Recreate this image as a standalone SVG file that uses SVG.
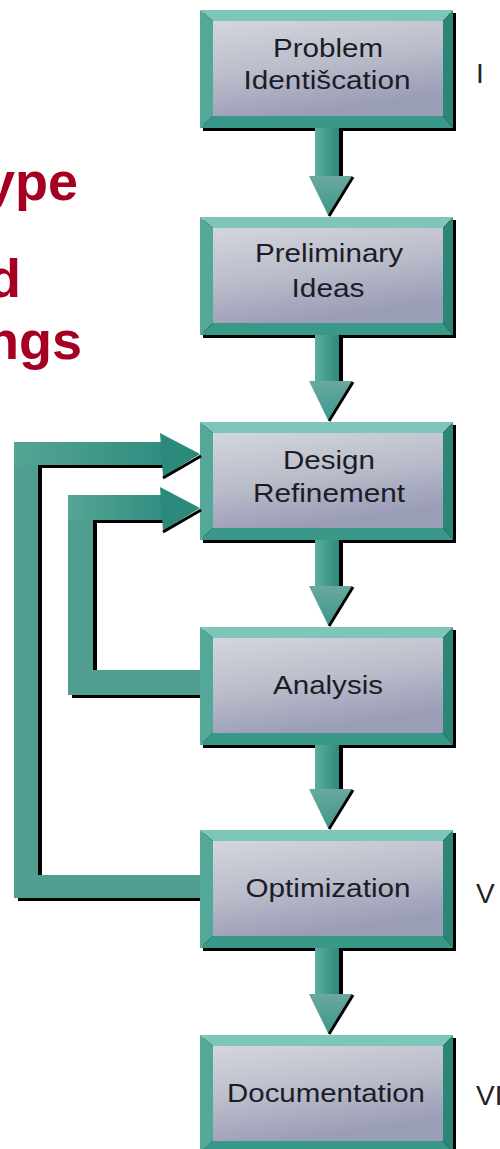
<svg xmlns="http://www.w3.org/2000/svg" xmlns:xlink="http://www.w3.org/1999/xlink" width="500" height="1149" viewBox="0 0 500 1149">
  <style>
    .title { font-family: "Liberation Sans", Arial, sans-serif; font-weight: bold; font-size: 54px; fill: #a50021; text-anchor: end; }
    .lbl { font-family: "Liberation Sans", Arial, sans-serif; font-size: 26px; fill: #1c1c28; text-anchor: middle; }
    .num { font-family: "Liberation Sans", Arial, sans-serif; font-size: 28px; fill: #222222; }
    .shadow { fill: #000000; }
    .bar { fill: #4f9e8f; }
    .head { fill: #2b8a7b; }
    .edge { stroke: #000000; stroke-width: 3; fill: none; }
  </style>
  <defs>
    <linearGradient id="face" x1="0" y1="0" x2="0.35" y2="1">
      <stop offset="0" stop-color="#d3d6dc"/>
      <stop offset="0.5" stop-color="#bcbfcb"/>
      <stop offset="1" stop-color="#9a9db6"/>
    </linearGradient>
    <linearGradient id="shaft" x1="0" y1="0" x2="1" y2="0">
      <stop offset="0" stop-color="#5cae9f"/>
      <stop offset="1" stop-color="#2d8a7c"/>
    </linearGradient>
    <linearGradient id="dhead" x1="0" y1="0" x2="0" y2="1">
      <stop offset="0" stop-color="#6aa9a1"/>
      <stop offset="1" stop-color="#3d978a"/>
    </linearGradient>
    <linearGradient id="hbar" x1="0" y1="0" x2="1" y2="0">
      <stop offset="0" stop-color="#55a595"/>
      <stop offset="1" stop-color="#2f8d80"/>
    </linearGradient>
    <g id="boxshape">
      <rect class="shadow" x="203" y="3" width="253" height="118"/>
      <polygon points="200,0 453,0 443,11 213,11" fill="#7ec6b9"/>
      <polygon points="200,0 213,11 213,106 200,118" fill="#53a899"/>
      <polygon points="200,118 213,106 443,106 453,118" fill="#399888"/>
      <polygon points="453,0 453,118 443,106 443,11" fill="#2c8576"/>
      <rect x="213" y="11" width="230" height="95" fill="url(#face)"/>
    </g>
  </defs>

  <rect width="500" height="1149" fill="#ffffff"/>

  <g id="title">
    <text class="title" x="78" y="200">ype</text>
    <text class="title" x="21" y="297">d</text>
    <text class="title" x="82" y="359">ngs</text>
  </g>

  <g id="n1" transform="translate(0,10)">
    <use xlink:href="#boxshape" href="#boxshape"/>
    <text class="lbl" x="328" y="47" textLength="110" lengthAdjust="spacingAndGlyphs">Problem</text>
    <text class="lbl" x="327" y="79" textLength="167" lengthAdjust="spacingAndGlyphs">Identišcation</text>
  </g>
  <g id="n2" transform="translate(0,217)">
    <use xlink:href="#boxshape" href="#boxshape"/>
    <text class="lbl" x="329" y="45" textLength="148" lengthAdjust="spacingAndGlyphs">Preliminary</text>
    <text class="lbl" x="328" y="80" textLength="73" lengthAdjust="spacingAndGlyphs">Ideas</text>
  </g>
  <g id="n3" transform="translate(0,422)">
    <use xlink:href="#boxshape" href="#boxshape"/>
    <text class="lbl" x="329" y="47" textLength="92" lengthAdjust="spacingAndGlyphs">Design</text>
    <text class="lbl" x="329" y="80" textLength="152" lengthAdjust="spacingAndGlyphs">Refinement</text>
  </g>
  <g id="n4" transform="translate(0,627)">
    <use xlink:href="#boxshape" href="#boxshape"/>
    <text class="lbl" x="328" y="67" textLength="110" lengthAdjust="spacingAndGlyphs">Analysis</text>
  </g>
  <g id="n5" transform="translate(0,830)">
    <use xlink:href="#boxshape" href="#boxshape"/>
    <text class="lbl" x="328" y="67" textLength="165" lengthAdjust="spacingAndGlyphs">Optimization</text>
  </g>
  <g id="n6" transform="translate(0,1035)">
    <use xlink:href="#boxshape" href="#boxshape"/>
    <text class="lbl" x="326" y="67" textLength="198" lengthAdjust="spacingAndGlyphs">Documentation</text>
  </g>

  <g id="stages">
    <text class="num" x="476" y="83">I</text>
    <text class="num" x="476" y="903">V</text>
    <text class="num" x="476" y="1105">VI</text>
  </g>

  <g id="connectors">
    <!-- down arrows -->
    <g id="down1">
      <rect class="shadow" x="339" y="128" width="4" height="50"/>
      <rect x="315" y="128" width="24" height="49" fill="url(#shaft)"/>
      <polygon points="309,176 352,176 328,215" fill="url(#dhead)"/>
      <line class="edge" x1="353" y1="177" x2="329" y2="216"/>
    </g>
    <g id="down2">
      <rect class="shadow" x="339" y="335" width="4" height="48"/>
      <rect x="315" y="335" width="24" height="47" fill="url(#shaft)"/>
      <polygon points="309,381 352,381 328,420" fill="url(#dhead)"/>
      <line class="edge" x1="353" y1="382" x2="329" y2="421"/>
    </g>
    <g id="down3">
      <rect class="shadow" x="339" y="540" width="4" height="48"/>
      <rect x="315" y="540" width="24" height="47" fill="url(#shaft)"/>
      <polygon points="309,586 352,586 328,625" fill="url(#dhead)"/>
      <line class="edge" x1="353" y1="587" x2="329" y2="626"/>
    </g>
    <g id="down4">
      <rect class="shadow" x="339" y="745" width="4" height="46"/>
      <rect x="315" y="745" width="24" height="45" fill="url(#shaft)"/>
      <polygon points="309,789 352,789 328,828" fill="url(#dhead)"/>
      <line class="edge" x1="353" y1="790" x2="329" y2="829"/>
    </g>
    <g id="down5">
      <rect class="shadow" x="339" y="948" width="4" height="48"/>
      <rect x="315" y="948" width="24" height="47" fill="url(#shaft)"/>
      <polygon points="309,994 352,994 328,1033" fill="url(#dhead)"/>
      <line class="edge" x1="353" y1="995" x2="329" y2="1034"/>
    </g>

    <!-- outer feedback loop: Optimization -> Design Refinement -->
    <g id="loop-outer">
      <rect class="shadow" x="38" y="465" width="4" height="410"/>
      <rect class="shadow" x="38" y="465" width="125" height="3"/>
      <rect class="shadow" x="18" y="898" width="182" height="3"/>
      <rect class="bar" x="14" y="442" width="24" height="456"/>
      <rect class="bar" x="14" y="875" width="186" height="23"/>
      <rect x="14" y="442" width="149" height="23" fill="url(#hbar)"/>
      <polygon class="head" points="160,433 200,454 163,477"/>
      <line class="edge" x1="163" y1="478" x2="201" y2="456"/>
    </g>

    <!-- inner feedback loop: Analysis -> Design Refinement -->
    <g id="loop-inner">
      <rect class="shadow" x="93" y="520" width="4" height="150"/>
      <rect class="shadow" x="93" y="520" width="70" height="3"/>
      <rect class="shadow" x="72" y="695" width="128" height="3"/>
      <rect class="bar" x="68" y="495" width="25" height="200"/>
      <rect class="bar" x="68" y="670" width="132" height="25"/>
      <rect x="68" y="495" width="95" height="25" fill="url(#hbar)"/>
      <polygon class="head" points="160,487 200,508 163,531"/>
      <line class="edge" x1="163" y1="532" x2="201" y2="510"/>
    </g>
  </g>
</svg>
